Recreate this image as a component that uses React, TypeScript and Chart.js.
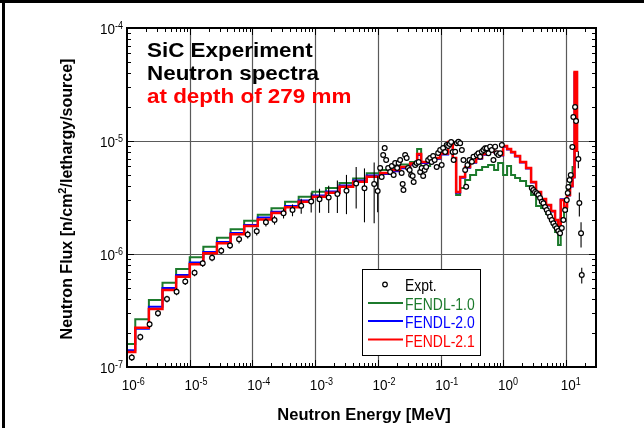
import React, { useEffect, useRef } from 'react';
import { Chart, registerables } from 'chart.js';

Chart.register(...registerables);

// ---------- axis ticks ----------
const xTickExponents = [-6, -5, -4, -3, -2, -1, 0, 1];
const yTickExponents = [-7, -6, -5, -4];

// ---------- calculated spectra (group-wise, step histograms) ----------
// bin lower edges [MeV]; the last entry is the upper edge of the last group
const binEdges = [
  8.22e-7, 1.355e-6, 2.234e-6, 3.68e-6, 6.07e-6, 1.0e-5, 1.648e-5, 2.716e-5, 4.48e-5, 7.38e-5,
  1.216e-4, 2.01e-4, 3.31e-4, 5.46e-4, 9.0e-4, 1.483e-3, 2.445e-3, 4.03e-3, 6.64e-3, 1.094e-2,
  1.568e-2, 2.263e-2, 3.266e-2, 4.222e-2, 4.891e-2, 6.80e-2, 9.82e-2, 0.1317, 0.1564, 0.1766,
  0.2045, 0.2457, 0.2952, 0.3678, 0.4585, 0.5713, 0.712, 0.8245, 0.9906, 1.147,
  1.328, 1.538, 1.848, 2.303, 2.767, 3.325, 3.994, 4.797, 5.764, 6.673,
  7.45, 8.226, 9.286, 10.36, 11.57, 12.69, 13.65, 14.96,
];

// flux per group [n/cm2/lethargy/source]; last entry = level at the final edge
const fendl21 = [
  1.36e-7, 2.23e-7, 3.26e-7, 4.8e-7, 6.3e-7, 8.11e-7, 1.014e-6, 1.245e-6, 1.494e-6, 1.77e-6,
  2.02e-6, 2.31e-6, 2.59e-6, 2.9e-6, 3.21e-6, 3.48e-6, 3.94e-6, 4.37e-6, 4.83e-6, 5.21e-6,
  5.54e-6, 5.89e-6, 6.32e-6, 7.67e-6, 6.52e-6, 7.07e-6, 7.75e-6, 9.8e-6, 7.07e-6, 3.54e-6,
  4.8e-6, 5.89e-6, 6.52e-6, 7.07e-6, 7.67e-6, 8.32e-6, 8.0e-6, 7.52e-6, 9.03e-6, 8.5e-6,
  8.0e-6, 7.37e-6, 6.52e-6, 5.77e-6, 4.34e-6, 3.54e-6, 3.06e-6, 2.71e-6, 2.4e-6, 2.0e-6,
  1.66e-6, 3.0e-6, 2.6e-6, 3.33e-6, 4.0e-6, 4.8e-6, 4.08e-5, 8.0e-6,
];

const fendl20 = [
  1.41e-7, 2.18e-7, 3.42e-7, 5.0e-7, 6.52e-7, 8.41e-7, 1.042e-6, 1.277e-6, 1.535e-6, 1.81e-6,
  2.1e-6, 2.36e-6, 2.66e-6, 2.97e-6, 3.3e-6, 3.57e-6, 4.04e-6, 4.47e-6, 4.95e-6, 5.1e-6,
  5.4e-6, 5.75e-6, 6.15e-6, 7.5e-6, 6.4e-6, 6.95e-6, 7.6e-6, 9.6e-6, 7.0e-6, 3.48e-6,
  4.72e-6, 5.8e-6, 6.42e-6, 6.98e-6, 7.55e-6, 8.2e-6, 7.9e-6, 7.45e-6, 8.9e-6, 8.4e-6,
  7.9e-6, 7.28e-6, 6.45e-6, 5.7e-6, 4.3e-6, 3.5e-6, 3.03e-6, 2.69e-6, 2.38e-6, 1.98e-6,
  1.68e-6, 3.05e-6, 2.62e-6, 3.3e-6, 3.96e-6, 4.75e-6, 4.0e-5, 8.0e-6,
];

const fendl10 = [
  1.6e-7, 2.64e-7, 3.92e-7, 5.57e-7, 7.36e-7, 9.35e-7, 1.161e-6, 1.394e-6, 1.654e-6, 1.97e-6,
  2.23e-6, 2.54e-6, 2.9e-6, 3.21e-6, 3.56e-6, 3.84e-6, 4.25e-6, 4.66e-6, 5.18e-6, 5.54e-6,
  5.83e-6, 6.19e-6, 6.52e-6, 8.5e-6, 6.01e-6, 7.0e-6, 7.67e-6, 9.03e-6, 6.65e-6, 3.33e-6,
  3.84e-6, 4.52e-6, 5.0e-6, 5.54e-6, 5.89e-6, 6.13e-6, 5.54e-6, 6.39e-6, 5.0e-6, 6.01e-6,
  5.0e-6, 4.7e-6, 4.43e-6, 4.0e-6, 3.33e-6, 2.66e-6, 2.55e-6, 2.26e-6, 2.0e-6, 1.566e-6,
  1.2e-6, 2.08e-6, 2.4e-6, 3.76e-6, 4.8e-6, 5.89e-6, 9.22e-6, 8.0e-6,
];

// ---------- experiment ----------
const exptEnergy = [
  1.192e-6, 1.629e-6, 2.292e-6, 3.118e-6, 4.34e-6, 6.17e-6, 8.49e-6, 1.194e-5, 1.613e-5, 2.27e-5,
  3.18e-5, 4.39e-5, 6.12e-5, 8.41e-5, 1.17e-4, 1.64e-4, 2.248e-4, 3.13e-4, 4.35e-4, 5.99e-4,
  8.64e-4, 1.172e-3, 1.642e-3, 2.26e-3, 3.155e-3, 4.505e-3, 6.11e-3, 8.72e-3,
  9.91e-3, 1.087e-2, 1.148e-2, 1.214e-2, 1.283e-2, 1.355e-2, 1.459e-2, 1.569e-2, 1.669e-2, 1.783e-2,
  1.885e-2, 2.029e-2, 2.142e-2, 2.263e-2, 2.391e-2, 2.481e-2, 2.555e-2, 2.719e-2, 2.873e-2, 3.036e-2,
  3.209e-2, 3.391e-2, 3.582e-2, 3.716e-2, 3.927e-2, 4.149e-2, 4.465e-2, 4.719e-2, 4.986e-2, 5.269e-2,
  5.568e-2, 5.883e-2, 6.33e-2, 6.81e-2, 7.2e-2, 7.6e-2, 8.03e-2, 8.65e-2, 9.14e-2, 9.83e-2,
  0.1039, 0.1097, 0.1181, 0.1248, 0.1318, 0.1393, 0.1472, 0.1555, 0.1613, 0.1704,
  0.1815, 0.1925, 0.2049, 0.218, 0.2313, 0.2462, 0.2555, 0.2679, 0.2883, 0.3149,
  0.334, 0.3773, 0.4004, 0.4261, 0.4537, 0.4813, 0.5122, 0.5451, 0.5782, 0.6155,
  0.6551, 0.6947, 0.7397, 0.7876, 0.8352, 0.8891, 0.9465,
  2.838, 3.011, 3.205, 3.411, 3.617, 3.85, 4.098, 4.347, 4.625, 4.923,
  5.221, 5.558, 5.916, 6.273, 6.677, 7.106, 7.537, 8.022, 8.538, 9.055,
  9.639, 10.26, 10.64, 10.88, 11.37, 11.88, 12.6, 13.07, 13.91, 14.43,
  15.7, 16.28, 17.33, 17.78,
];

const exptFlux = [
  1.214e-7, 1.843e-7, 2.392e-7, 2.993e-7, 3.997e-7, 4.64e-7, 5.71e-7, 6.83e-7, 8.27e-7, 9.26e-7,
  1.07e-6, 1.189e-6, 1.349e-6, 1.488e-6, 1.588e-6, 1.908e-6, 2.0e-6, 2.292e-6, 2.451e-6, 2.676e-6,
  2.914e-6, 3.048e-6, 3.162e-6, 3.396e-6, 3.633e-6, 4.206e-6, 3.814e-6, 4.164e-6,
  3.61e-6, 5.77e-6, 4.8e-6, 7.52e-6, 8.67e-6, 6.79e-6, 5.77e-6, 5.32e-6, 6.01e-6, 5.0e-6,
  6.39e-6, 5.77e-6, 6.39e-6, 6.79e-6, 5.21e-6, 4.16e-6, 3.68e-6, 7.52e-6, 7.07e-6, 5.77e-6,
  5.54e-6, 5.0e-6, 4.9e-6, 4.34e-6, 6.13e-6, 6.39e-6, 6.52e-6, 5.32e-6, 5.77e-6, 4.9e-6,
  5.54e-6, 5.89e-6, 6.79e-6, 7.07e-6, 6.52e-6, 7.37e-6, 6.79e-6, 5.89e-6, 7.83e-6, 8.32e-6,
  6.13e-6, 8.67e-6, 8.0e-6, 9.22e-6, 9.03e-6, 9.41e-6, 9.8e-6, 8.0e-6, 6.79e-6, 8.04e-6,
  9.54e-6, 9.86e-6, 9.54e-6, 8.32e-6, 6.79e-6, 5.54e-6, 3.94e-6, 6.13e-6, 6.79e-6, 6.56e-6,
  7.26e-6, 7.52e-6, 7.78e-6, 7.26e-6, 8.04e-6, 8.32e-6, 8.63e-6, 8.63e-6, 7.78e-6, 8.91e-6,
  8.32e-6, 6.79e-6, 8.91e-6, 7.78e-6, 7.52e-6, 7.78e-6, 9.22e-6,
  3.84e-6, 3.68e-6, 3.54e-6, 3.45e-6, 3.33e-6, 3.13e-6, 2.9e-6, 2.81e-6, 2.6e-6, 2.45e-6,
  2.31e-6, 2.14e-6, 2.0e-6, 1.87e-6, 1.77e-6, 1.69e-6, 1.6e-6, 1.525e-6, 1.7e-6, 2.0e-6,
  2.45e-6, 3.0e-6, 3.47e-6, 3.92e-6, 4.52e-6, 5.0e-6, 8.85e-6, 1.63e-5, 2.0e-5, 1.5e-5,
  6.93e-6, 2.83e-6, 1.525e-6, 6.52e-7,
];

// relative (1 sigma) uncertainty of each measured point
const exptRelErr = [
  0.07, 0.07, 0.07, 0.07, 0.07, 0.07, 0.07, 0.07, 0.07, 0.07,
  0.07, 0.07, 0.08, 0.08, 0.08, 0.08, 0.09, 0.1, 0.12, 0.15,
  0.2, 0.24, 0.27, 0.32, 0.38, 0.4, 0.5, 0.55,
  0.35, 0.05, 0.05, 0.05, 0.05, 0.05, 0.05, 0.05, 0.05, 0.05,
  0.05, 0.05, 0.05, 0.05, 0.05, 0.05, 0.05, 0.05, 0.05, 0.05,
  0.05, 0.05, 0.05, 0.05, 0.05, 0.05, 0.05, 0.05, 0.05, 0.05,
  0.05, 0.05, 0.05, 0.05, 0.05, 0.05, 0.05, 0.05, 0.05, 0.05,
  0.05, 0.05, 0.05, 0.05, 0.05, 0.05, 0.05, 0.05, 0.05, 0.05,
  0.05, 0.05, 0.05, 0.05, 0.05, 0.05, 0.05, 0.05, 0.05, 0.05,
  0.05, 0.05, 0.05, 0.05, 0.05, 0.05, 0.05, 0.05, 0.05, 0.05,
  0.05, 0.05, 0.05, 0.05, 0.05, 0.05, 0.05,
  0.04, 0.04, 0.04, 0.04, 0.04, 0.04, 0.04, 0.04, 0.04, 0.04,
  0.04, 0.04, 0.04, 0.04, 0.04, 0.04, 0.04, 0.04, 0.04, 0.04,
  0.04, 0.04, 0.04, 0.04, 0.04, 0.04, 0.04, 0.04, 0.04, 0.04,
  0.17, 0.24, 0.25, 0.16,
];

const titleLines = ['SiC Experiment', 'Neutron spectra', 'at depth of 279 mm'];
const legendLabels = ['Expt.', 'FENDL-1.0', 'FENDL-2.0', 'FENDL-2.1'];

const COLORS = { f10: '#1c7a2c', f20: '#0000ff', f21: '#ff0000' };
const FONT = '"Liberation Sans", Arial, Helvetica, sans-serif';

function drawText(
  ctx: CanvasRenderingContext2D, s: string, x: number, y: number,
  font: string, color: string, align: CanvasTextAlign = 'left', sx = 1,
) {
  ctx.save();
  ctx.font = font;
  ctx.fillStyle = color;
  ctx.textAlign = align;
  ctx.textBaseline = 'alphabetic';
  ctx.translate(x, y);
  ctx.scale(sx, 1);
  ctx.fillText(s, 0, 0);
  ctx.restore();
}
function textWidth(ctx: CanvasRenderingContext2D, s: string, font: string, sx = 1) {
  ctx.save();
  ctx.font = font;
  const w = ctx.measureText(s).width * sx;
  ctx.restore();
  return w;
}
const expStr = (e: number) => (e < 0 ? '-' + Math.abs(e) : String(e));

const overlay = {
  id: 'overlay',
  beforeDatasetsDraw(chart: any) {
    const { ctx, chartArea: a, scales } = chart;
    const xs = scales.x, ys = scales.y;
    ctx.save();
    ctx.strokeStyle = '#5a5a5a';
    ctx.lineWidth = 1.2;
    for (const e of xTickExponents) {
      const px = Math.round(xs.getPixelForValue(Math.pow(10, e))) + 0.5;
      if (px <= a.left + 2 || px >= a.right - 2) continue;
      ctx.beginPath(); ctx.moveTo(px, a.top); ctx.lineTo(px, a.bottom); ctx.stroke();
    }
    for (const e of yTickExponents) {
      const py = Math.round(ys.getPixelForValue(Math.pow(10, e))) + 0.5;
      if (py <= a.top + 2 || py >= a.bottom - 2) continue;
      ctx.beginPath(); ctx.moveTo(a.left, py); ctx.lineTo(a.right, py); ctx.stroke();
    }
    ctx.restore();
  },
  beforeDatasetDraw(chart: any, args: any) {
    if (args.index !== 0) return;
    const { ctx, scales } = chart;
    const xs = scales.x, ys = scales.y;
    ctx.save();
    ctx.strokeStyle = '#000';
    ctx.lineWidth = 1.1;
    exptEnergy.forEach((e, i) => {
      const f = exptFlux[i], r = exptRelErr[i];
      const px = xs.getPixelForValue(e);
      ctx.beginPath();
      ctx.moveTo(px, ys.getPixelForValue(f * (1 + r)));
      ctx.lineTo(px, ys.getPixelForValue(f * (1 - r)));
      ctx.stroke();
    });
    ctx.restore();
  },
  afterDraw(chart: any) {
    const { ctx, chartArea: a, scales } = chart;
    const xs = scales.x, ys = scales.y;
    ctx.save();

    // minor / major ticks inside the frame
    ctx.strokeStyle = '#000';
    ctx.lineWidth = 1;
    for (let e = -6; e <= 1; e++) {
      for (let m = 1; m <= 9; m++) {
        const v = m * Math.pow(10, e);
        if (v < 1e-6 * 0.999 || v > 30) continue;
        const px = Math.round(xs.getPixelForValue(v)) + 0.5;
        const len = m === 1 ? 7 : 4;
        ctx.beginPath();
        ctx.moveTo(px, a.bottom); ctx.lineTo(px, a.bottom - len);
        ctx.moveTo(px, a.top); ctx.lineTo(px, a.top + len);
        ctx.stroke();
      }
    }
    for (let e = -7; e <= -5; e++) {
      for (let m = 1; m <= 9; m++) {
        const v = m * Math.pow(10, e);
        const py = Math.round(ys.getPixelForValue(v)) + 0.5;
        const len = m === 1 ? 7 : 4;
        ctx.beginPath();
        ctx.moveTo(a.left, py); ctx.lineTo(a.left + len, py);
        ctx.moveTo(a.right, py); ctx.lineTo(a.right - len, py);
        ctx.stroke();
      }
    }

    // plot frame
    ctx.lineWidth = 2;
    ctx.strokeRect(a.left, a.top, a.right - a.left, a.bottom - a.top);

    // tick labels
    const f1 = `15px ${FONT}`;
    const f2 = `10px ${FONT}`;
    const sx = 0.9;
    for (const e of xTickExponents) {
      const px = xs.getPixelForValue(Math.pow(10, e));
      const left = px - 5.3;
      const w10 = textWidth(ctx, '10', f1, sx);
      drawText(ctx, '10', left, a.bottom + 23, f1, '#000', 'left', sx);
      drawText(ctx, expStr(e), left + w10, a.bottom + 17.5, f2, '#000', 'left', sx);
    }
    for (const e of yTickExponents) {
      const py = ys.getPixelForValue(Math.pow(10, e));
      const es = expStr(e);
      const we = textWidth(ctx, es, f2, sx);
      const right = a.left - 4;
      drawText(ctx, es, right - we, py + 1, f2, '#000', 'left', sx);
      drawText(ctx, '10', right - we, py + 5.5, f1, '#000', 'right', sx);
    }

    // axis titles
    const ft = `bold 16.5px ${FONT}`;
    drawText(ctx, 'Neutron Energy [MeV]', 364, 420, ft, '#000', 'center');
    {
      const fy = `bold 16px ${FONT}`;
      const fs = `bold 11px ${FONT}`;
      const p1 = 'Neutron Flux [n/cm', p2 = '2', p3 = '/lethargy/source]';
      const w1 = textWidth(ctx, p1, fy), w2 = textWidth(ctx, p2, fs), w3 = textWidth(ctx, p3, fy);
      const total = w1 + w2 + w3;
      ctx.save();
      ctx.translate(72, 199);
      ctx.rotate(-Math.PI / 2);
      const x0 = -total / 2;
      drawText(ctx, p1, x0, 0, fy, '#000');
      drawText(ctx, p2, x0 + w1, -6, fs, '#000');
      drawText(ctx, p3, x0 + w1 + w2, 0, fy, '#000');
      ctx.restore();
    }

    // annotation
    const fa = `bold 19.5px ${FONT}`;
    drawText(ctx, titleLines[0], 147, 57.3, fa, '#000', 'left', 1.15);
    drawText(ctx, titleLines[1], 147, 80.3, fa, '#000', 'left', 1.15);
    drawText(ctx, titleLines[2], 147, 102.7, fa, COLORS.f21, 'left', 1.15);

    // legend
    const lx = 362, ly = 269, lw = 118, lh = 86;
    ctx.fillStyle = '#fff';
    ctx.fillRect(lx, ly, lw, lh);
    ctx.strokeStyle = '#000';
    ctx.lineWidth = 1;
    ctx.strokeRect(lx + 0.5, ly + 0.5, lw, lh);
    ctx.beginPath();
    ctx.arc(385, 284.5, 2.3, 0, Math.PI * 2);
    ctx.fillStyle = '#fff'; ctx.fill();
    ctx.lineWidth = 1.2; ctx.strokeStyle = '#000'; ctx.stroke();
    const fl = `16px ${FONT}`;
    const lsx = 0.87;
    drawText(ctx, legendLabels[0], 405, 290.5, fl, '#000', 'left', lsx);
    const rows: [string, string, number][] = [
      [legendLabels[1], COLORS.f10, 303],
      [legendLabels[2], COLORS.f20, 321],
      [legendLabels[3], COLORS.f21, 339.5],
    ];
    for (const [lab, col, yy] of rows) {
      ctx.strokeStyle = col;
      ctx.lineWidth = 2;
      ctx.beginPath(); ctx.moveTo(368, yy); ctx.lineTo(403, yy); ctx.stroke();
      drawText(ctx, lab, 405, yy + 7.3, fl, col, 'left', lsx);
    }

    // outer picture frame (top and left edges)
    ctx.fillStyle = '#000';
    ctx.fillRect(0, 0, 644, 3);
    ctx.fillRect(2, 0, 3, 428);

    ctx.restore();
  },
};

export default function App() {
  const ref = useRef<HTMLCanvasElement>(null);
  useEffect(() => {
    const canvas = ref.current;
    if (!canvas) return;
    // each value holds from its own edge up to the next edge
    const steps = (vals: number[]) => binEdges.map((e, i) => ({ x: e, y: vals[i] }));
    const expt = exptEnergy.map((e, i) => ({ x: e, y: exptFlux[i] }));
    const lineBase = { type: 'line' as const, stepped: 'before' as const, pointRadius: 0, fill: false, tension: 0 };
    const chart = new Chart(canvas, {
      type: 'scatter',
      data: {
        datasets: [
          {
            type: 'scatter', label: legendLabels[0], data: expt,
            pointRadius: 2.4, pointHoverRadius: 2.4, pointBackgroundColor: '#fff',
            pointBorderColor: '#000', pointBorderWidth: 1.2, showLine: false,
          } as any,
          { ...lineBase, label: legendLabels[3], data: steps(fendl21), borderColor: COLORS.f21, borderWidth: 2.5 } as any,
          { ...lineBase, label: legendLabels[2], data: steps(fendl20), borderColor: COLORS.f20, borderWidth: 2 } as any,
          { ...lineBase, label: legendLabels[1], data: steps(fendl10), borderColor: COLORS.f10, borderWidth: 2 } as any,
        ],
      },
      options: {
        animation: false,
        responsive: false,
        devicePixelRatio: 1,
        events: [],
        layout: { padding: { left: 127, top: 28, right: 48, bottom: 61 } },
        scales: {
          x: { type: 'logarithmic', min: 1e-6, max: 30, display: false },
          y: { type: 'logarithmic', min: 1e-7, max: 1e-4, display: false },
        },
        plugins: { legend: { display: false }, tooltip: { enabled: false } },
      },
      plugins: [overlay],
    } as any);
    return () => chart.destroy();
  }, []);
  return (
    <div style={{ position: 'absolute', left: 0, top: 0, width: 644, height: 428, background: '#fff' }}>
      <canvas ref={ref} width={644} height={428} style={{ display: 'block' }} />
    </div>
  );
}
